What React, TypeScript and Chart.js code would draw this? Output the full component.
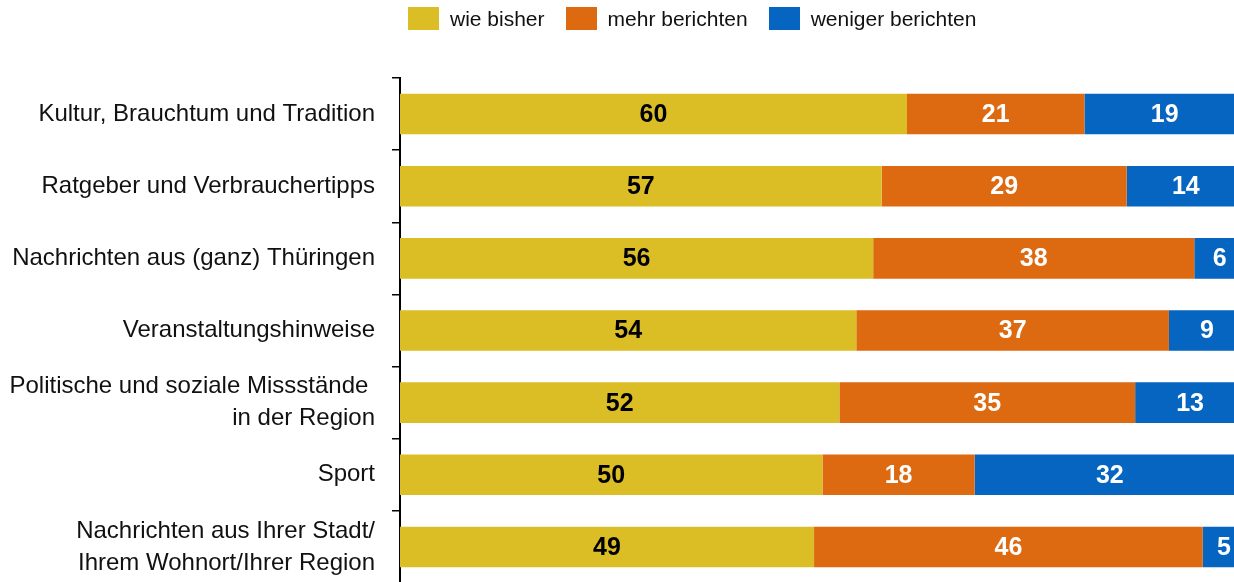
import React, { useEffect, useRef } from "react";
import { Chart, registerables } from "chart.js";

Chart.register(...registerables);

const categories: (string | string[])[] = [
  "Kultur, Brauchtum und Tradition",
  "Ratgeber und Verbrauchertipps",
  "Nachrichten aus (ganz) Thüringen",
  "Veranstaltungshinweise",
  ["Politische und soziale Missstände ", "in der Region"],
  "Sport",
  ["Nachrichten aus Ihrer Stadt/", "Ihrem Wohnort/Ihrer Region"],
];

const seriesNames = ["wie bisher", "mehr berichten", "weniger berichten"];
const wieBisher = [60, 57, 56, 54, 52, 50, 49];
const mehrBerichten = [21, 29, 38, 37, 35, 18, 46];
const wenigerBerichten = [19, 14, 6, 9, 13, 32, 5];

const colors = ["#DBBD25", "#DD6A10", "#0565C1"];
const labelColors = ["#000000", "#FFFFFF", "#FFFFFF"];

const FONT = '"Liberation Sans", Arial, sans-serif';

const valueLabels = {
  id: "valueLabels",
  afterDatasetsDraw(chart: any) {
    const ctx = chart.ctx;
    ctx.save();
    ctx.font = `bold 25px ${FONT}`;
    ctx.textAlign = "center";
    ctx.textBaseline = "middle";
    chart.data.datasets.forEach((ds: any, di: number) => {
      const meta = chart.getDatasetMeta(di);
      meta.data.forEach((el: any, i: number) => {
        const cx = (el.x + el.base) / 2;
        ctx.fillStyle = labelColors[di];
        ctx.fillText(String(ds.data[i]), cx, el.y + 1);
      });
    });
    ctx.restore();
  },
};

export default function App() {
  const ref = useRef<HTMLCanvasElement>(null);

  useEffect(() => {
    document.body.style.overflow = "hidden";
    document.documentElement.style.overflow = "hidden";
    const chart = new Chart(ref.current!, {
      type: "bar",
      data: {
        labels: categories as any,
        datasets: [wieBisher, mehrBerichten, wenigerBerichten].map((d, i) => ({
          label: seriesNames[i],
          data: d,
          backgroundColor: colors[i],
          borderWidth: 0,
          categoryPercentage: 1,
          barPercentage: 0.562,
        })),
      },
      options: {
        indexAxis: "y",
        animation: false,
        responsive: false,
        devicePixelRatio: 1,
        layout: { padding: { top: 78, bottom: 7, left: 0, right: 5 } },
        plugins: {
          legend: { display: false },
          tooltip: { enabled: false },
        },
        scales: {
          x: {
            stacked: true,
            display: false,
            min: 0,
            max: 100,
          },
          y: {
            stacked: true,
            afterFit(scale: any) {
              scale.width = 400;
              scale.paddingTop = 0;
              scale.paddingBottom = 0;
            },
            border: { display: true, color: "#000000", width: 2 },
            grid: {
              display: true,
              drawOnChartArea: false,
              drawTicks: true,
              tickLength: 8,
              color: "#000000",
              lineWidth: 1.5,
              offset: true,
            },
            ticks: {
              color: "#111111",
              padding: 17,
              font: { family: FONT, size: 24, lineHeight: 1.33 },
            },
          },
        },
      },
      plugins: [valueLabels],
    });
    return () => chart.destroy();
  }, []);

  const legendItem = (i: number) => (
    <div key={i} style={{ display: "flex", alignItems: "center", marginRight: 21 }}>
      <div style={{ width: 31, height: 23, background: colors[i], marginRight: 11 }} />
      <span style={{ fontFamily: FONT, fontSize: 21, color: "#111111", lineHeight: "23px" }}>
        {seriesNames[i]}
      </span>
    </div>
  );

  return (
    <div style={{ position: "fixed", left: 0, top: 0, width: 1250, height: 590, background: "#fff" }}>
      <canvas ref={ref} width={1250} height={590} style={{ position: "absolute", left: 0, top: 0 }} />
      <div style={{ position: "absolute", left: 408, top: 7, display: "flex" }}>
        {[0, 1, 2].map(legendItem)}
      </div>
    </div>
  );
}
